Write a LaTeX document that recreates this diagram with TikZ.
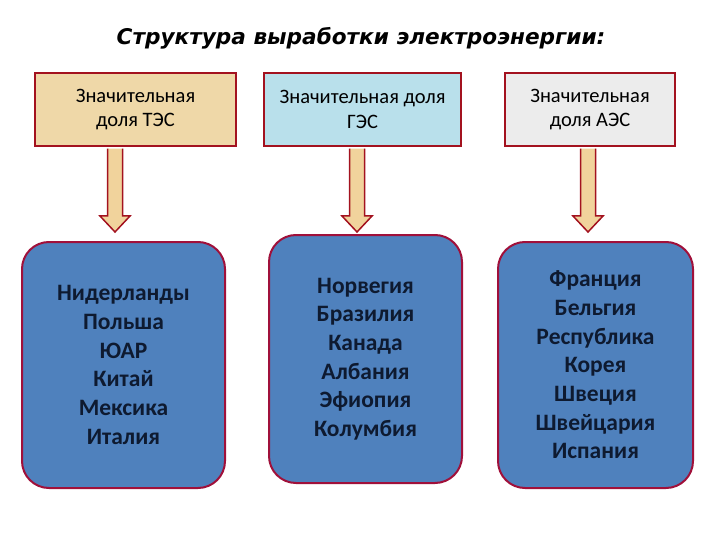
\documentclass[tikz,border=0pt]{standalone}
\usepackage{fontspec}
\setmainfont{Carlito}
\newfontfamily\titlefont{DejaVu Sans}
\usetikzlibrary{calc}
\definecolor{frame}{HTML}{A3121F}
\definecolor{boxframe}{HTML}{A0103A}
\definecolor{tesfill}{HTML}{EFD8A8}
\definecolor{gesfill}{HTML}{B9E0EB}
\definecolor{aesfill}{HTML}{ECECEC}
\definecolor{arrowfill}{HTML}{F1D39C}
\definecolor{countryblue}{HTML}{4F81BD}
\definecolor{navytext}{HTML}{0E1A30}
\tikzset{
  sharebox/.style={draw=frame, line width=2.5pt, align=center, minimum height=73pt,
    font=\fontsize{20.5}{24.5}\selectfont},
  countrybox/.style={draw=boxframe, line width=2pt, fill=countryblue, rounded corners=27pt,
    align=center, text=navytext, font=\fontsize{23.5}{28.7}\selectfont\bfseries},
  blockarrow/.style={draw=frame, line width=1.5pt, fill=arrowfill, line join=miter}
}
\begin{document}
\begin{tikzpicture}[x=1pt,y=-1pt]
\useasboundingbox (0,0) rectangle (720,540);
\node[font=\titlefont\fontsize{21.6}{26}\selectfont\bfseries\itshape] (title) at (361,38)
  {Структура выработки электроэнергии:};
% top row
\node[sharebox, fill=tesfill, minimum width=201pt] (tes) at (135.5,109.5) {Значительная\\доля ТЭС};
\node[sharebox, fill=gesfill, minimum width=197pt] (ges) at (362.5,109.5) {Значительная доля\\ГЭС};
\node[sharebox, fill=aesfill, minimum width=170pt] (aes) at (590,109.5) {Значительная\\доля АЭС};
% bottom row
\node[countrybox, minimum width=203pt, minimum height=246pt] (nl) at (123.5,365)
  {Нидерланды\\Польша\\ЮАР\\Китай\\Мексика\\Италия};
\node[countrybox, minimum width=193pt, minimum height=248pt] (no) at (365.5,359)
  {Норвегия\\Бразилия\\Канада\\Албания\\Эфиопия\\Колумбия};
\node[countrybox, minimum width=195pt, minimum height=246pt] (fr) at (595.5,365)
  {Франция\\Бельгия\\Республика\\Корея\\Швеция\\Швейцария\\Испания};
% block arrows
\foreach \t/\ax in {tes/115, ges/357, aes/588} {
  \coordinate (ax) at (\ax,0);
  \draw[blockarrow] ($(ax |- \t.south)+(-7.5,1.3)$) -- (\ax-7.5,216) -- (\ax-15,216)
    -- (\ax,232) -- (\ax+15,216) -- (\ax+7.5,216) -- ($(ax |- \t.south)+(7.5,1.3)$);
}
\end{tikzpicture}
\end{document}
